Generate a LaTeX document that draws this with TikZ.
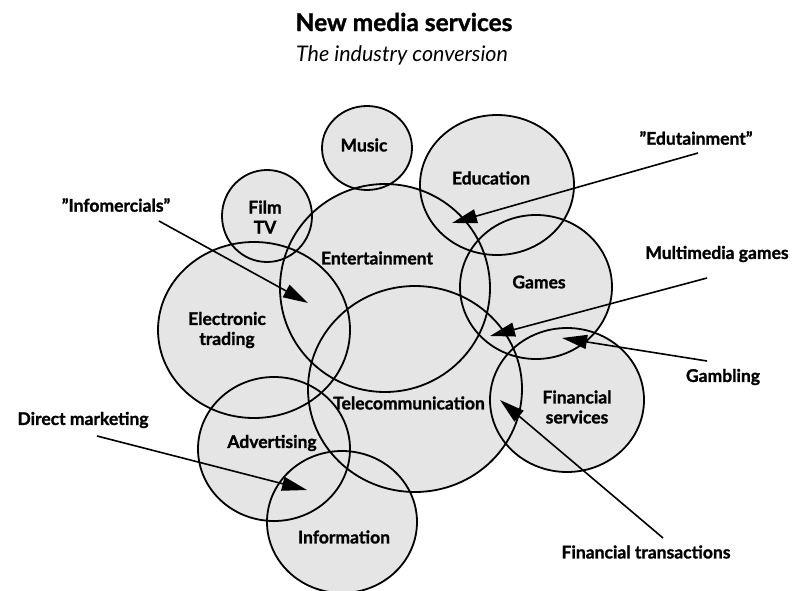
\documentclass[tikz,border=0pt]{standalone}
\usepackage{fontspec}
\setmainfont{Lato}[BoldFeatures={FakeBold=1.3}]
\usetikzlibrary{shapes.geometric, arrows.meta, backgrounds}
\begin{document}
\begin{tikzpicture}[x=1pt, y=-1pt,
        bubble/.style = {ellipse, draw, line width=1.8pt, inner sep=0pt},
        stipple/.style = {fill=black!10},
        tag/.style = {font=\fontsize{17.5}{20}\selectfont\bfseries, align=center},
        note/.style = {font=\fontsize{17.5}{20}\selectfont\bfseries},
        pointer/.style = {line width=1.6pt, -{Triangle[length=25pt, width=14pt]}}]
    \useasboundingbox (0,0) rectangle (795,591);
    \node[font=\fontsize{24.5}{28}\selectfont\bfseries] (title) at (404,22) {New media services};
    \node[font=\fontsize{21.5}{25}\selectfont\itshape] (subtitle) at (402,55) {The industry conversion};

    \foreach \name/\x/\y/\rx/\ry in {music/367/148/45/42, film/267/216/45/46,
            education/497/185/77/70, entertainment/385/288/105/104,
            games/536/287/76/72, trading/254/330/96/88,
            telecom/415/389/107/103, finance/567/400/77/72,
            advertising/274/449/76/72, information/342/522/75/71} {
        \node[bubble, minimum width=2*\rx, minimum height=2*\ry] (\name) at (\x,\y) {};
        \begin{pgfonlayer}{background}
            \fill[stipple] (\x,\y) ellipse [x radius=\rx, y radius=\ry];
        \end{pgfonlayer}
    }

    \node[tag] (musictag) at (364,145) {Music};
    \node[tag] (filmtag) at (265,217) {Film\\TV};
    \node[tag] (educationtag) at (491,178) {Education};
    \node[tag] (entertainmenttag) at (377,258) {Entertainment};
    \node[tag] (gamestag) at (539,282) {Games};
    \node[tag] (tradingtag) at (227,330) {Electronic\\trading};
    \node[tag] (telecomtag) at (409,403) {Telecommunication};
    \node[tag] (financetag) at (577,407) {Financial\\services};
    \node[tag] (advertisingtag) at (272,443) {Advertising};
    \node[tag] (informationtag) at (344,537) {Information};

    \node[note] (infomercials) at (116,205) {''Infomercials''};
    \node[note] (edutainment) at (696,138) {''Edutainment''};
    \node[note] (multimedia) at (717,254) {Multimedia games};
    \node[note] (gambling) at (723,377) {Gambling};
    \node[note] (transactions) at (646,552) {Financial transactions};
    \node[note] (marketing) at (83,420) {Direct marketing};

    \coordinate (infomercialstip) at (308,303);
    \coordinate (edutainmenttip) at (452,223);
    \coordinate (multimediatip) at (490,336);
    \coordinate (gamblingtip) at (562,338);
    \coordinate (transactionstip) at (500,400);
    \coordinate (marketingtip) at (307,490);

    \draw[pointer] ([shift={(43,16)}]infomercials.center) -- (infomercialstip);
    \draw[pointer] ([shift={(2,15)}]edutainment.center) -- (edutainmenttip);
    \draw[pointer] ([shift={(-10,24)}]multimedia.center) -- (multimediatip);
    \draw[pointer] ([shift={(-16,-16)}]gambling.center) -- (gamblingtip);
    \draw[pointer] ([shift={(17,-14)}]transactions.center) -- (transactionstip);
    \draw[pointer] ([shift={(14,16)}]marketing.center) -- (marketingtip);
\end{tikzpicture}
\end{document}
